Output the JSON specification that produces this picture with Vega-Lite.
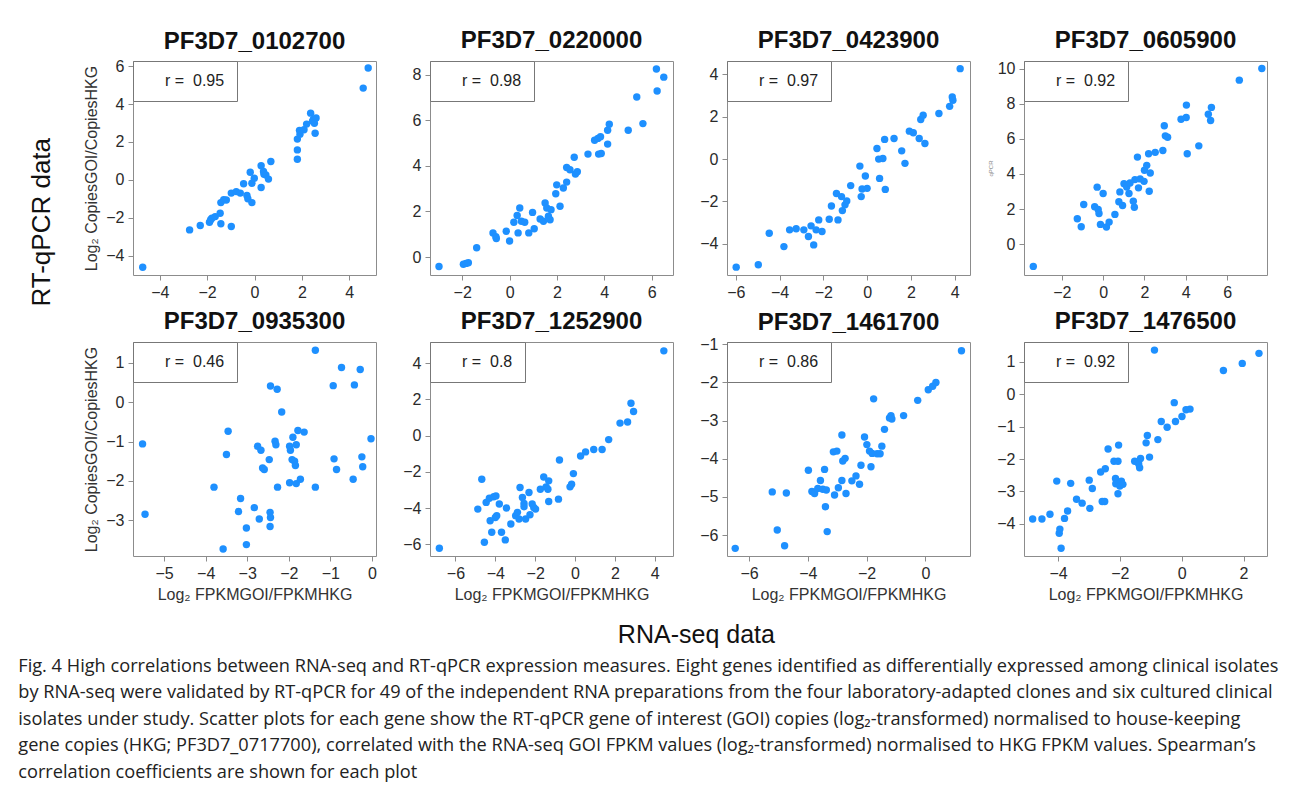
{
  "$schema": "https://vega.github.io/schema/vega-lite/v6.json",
  "padding": {"left": 18, "top": 28, "right": 10, "bottom": 5},
  "background": "white",
  "datasets": {
    "stats": [
      {"g": "PF3D7_0102700", "r": "0.95"},
      {"g": "PF3D7_0220000", "r": "0.98"},
      {"g": "PF3D7_0423900", "r": "0.97"},
      {"g": "PF3D7_0605900", "r": "0.92"},
      {"g": "PF3D7_0935300", "r": "0.46"},
      {"g": "PF3D7_1252900", "r": "0.8"},
      {"g": "PF3D7_1461700", "r": "0.86"},
      {"g": "PF3D7_1476500", "r": "0.92"}
    ],
    "pts": [
      {"g": "PF3D7_0102700", "x": -4.72, "y": -4.61},
      {"g": "PF3D7_0102700", "x": -2.74, "y": -2.64},
      {"g": "PF3D7_0102700", "x": -2.29, "y": -2.41},
      {"g": "PF3D7_0102700", "x": -1.9, "y": -2.24},
      {"g": "PF3D7_0102700", "x": -1.8, "y": -2.02},
      {"g": "PF3D7_0102700", "x": -1.85, "y": -2.1},
      {"g": "PF3D7_0102700", "x": -1.66, "y": -1.94},
      {"g": "PF3D7_0102700", "x": -1.45, "y": -1.76},
      {"g": "PF3D7_0102700", "x": -1.42, "y": -2.32},
      {"g": "PF3D7_0102700", "x": -0.98, "y": -2.46},
      {"g": "PF3D7_0102700", "x": -1.42, "y": -1.2},
      {"g": "PF3D7_0102700", "x": -1.3, "y": -1.05},
      {"g": "PF3D7_0102700", "x": -1.19, "y": -1.06},
      {"g": "PF3D7_0102700", "x": -0.98, "y": -0.7},
      {"g": "PF3D7_0102700", "x": -0.77, "y": -0.62},
      {"g": "PF3D7_0102700", "x": -0.6, "y": -0.7},
      {"g": "PF3D7_0102700", "x": -0.32, "y": -0.83},
      {"g": "PF3D7_0102700", "x": -0.28, "y": -1.0},
      {"g": "PF3D7_0102700", "x": -0.11, "y": -1.2},
      {"g": "PF3D7_0102700", "x": -0.46, "y": -0.21},
      {"g": "PF3D7_0102700", "x": -0.18, "y": 0.4},
      {"g": "PF3D7_0102700", "x": -0.11, "y": -0.18},
      {"g": "PF3D7_0102700", "x": -0.01, "y": 0.09},
      {"g": "PF3D7_0102700", "x": 0.28, "y": -0.4},
      {"g": "PF3D7_0102700", "x": 0.28, "y": 0.74},
      {"g": "PF3D7_0102700", "x": 0.38, "y": 0.44},
      {"g": "PF3D7_0102700", "x": 0.4, "y": 0.3},
      {"g": "PF3D7_0102700", "x": 0.48, "y": 0.26},
      {"g": "PF3D7_0102700", "x": 0.59, "y": 0.04},
      {"g": "PF3D7_0102700", "x": 0.69, "y": 0.97},
      {"g": "PF3D7_0102700", "x": 1.81, "y": 1.09},
      {"g": "PF3D7_0102700", "x": 1.81, "y": 1.58},
      {"g": "PF3D7_0102700", "x": 1.81, "y": 2.15},
      {"g": "PF3D7_0102700", "x": 1.92, "y": 2.41},
      {"g": "PF3D7_0102700", "x": 1.9, "y": 2.61},
      {"g": "PF3D7_0102700", "x": 2.09, "y": 2.64},
      {"g": "PF3D7_0102700", "x": 2.2, "y": 2.94},
      {"g": "PF3D7_0102700", "x": 2.37, "y": 3.52},
      {"g": "PF3D7_0102700", "x": 2.49, "y": 3.2},
      {"g": "PF3D7_0102700", "x": 2.45, "y": 3.1},
      {"g": "PF3D7_0102700", "x": 2.6, "y": 3.26},
      {"g": "PF3D7_0102700", "x": 2.56, "y": 2.46},
      {"g": "PF3D7_0102700", "x": 2.53, "y": 2.99},
      {"g": "PF3D7_0102700", "x": 4.59, "y": 4.84},
      {"g": "PF3D7_0102700", "x": 4.8, "y": 5.9},

      {"g": "PF3D7_0220000", "x": -2.98, "y": -0.42},
      {"g": "PF3D7_0220000", "x": -1.95, "y": -0.32},
      {"g": "PF3D7_0220000", "x": -1.84, "y": -0.28},
      {"g": "PF3D7_0220000", "x": -1.74, "y": -0.25},
      {"g": "PF3D7_0220000", "x": -1.39, "y": 0.41},
      {"g": "PF3D7_0220000", "x": -0.7, "y": 1.06},
      {"g": "PF3D7_0220000", "x": -0.58, "y": 0.89},
      {"g": "PF3D7_0220000", "x": -0.56, "y": 0.81},
      {"g": "PF3D7_0220000", "x": -0.14, "y": 1.13},
      {"g": "PF3D7_0220000", "x": 0.0, "y": 0.7},
      {"g": "PF3D7_0220000", "x": 0.18, "y": 1.53},
      {"g": "PF3D7_0220000", "x": 0.32, "y": 1.82},
      {"g": "PF3D7_0220000", "x": 0.36, "y": 1.06},
      {"g": "PF3D7_0220000", "x": 0.43, "y": 2.15},
      {"g": "PF3D7_0220000", "x": 0.5, "y": 1.57},
      {"g": "PF3D7_0220000", "x": 0.64, "y": 1.53},
      {"g": "PF3D7_0220000", "x": 0.81, "y": 1.06},
      {"g": "PF3D7_0220000", "x": 0.97, "y": 1.96},
      {"g": "PF3D7_0220000", "x": 1.04, "y": 1.24},
      {"g": "PF3D7_0220000", "x": 1.29, "y": 1.67},
      {"g": "PF3D7_0220000", "x": 1.43, "y": 1.57},
      {"g": "PF3D7_0220000", "x": 1.5, "y": 2.37},
      {"g": "PF3D7_0220000", "x": 1.57, "y": 2.15},
      {"g": "PF3D7_0220000", "x": 1.64, "y": 1.79},
      {"g": "PF3D7_0220000", "x": 1.71, "y": 1.64},
      {"g": "PF3D7_0220000", "x": 1.75, "y": 2.08},
      {"g": "PF3D7_0220000", "x": 2.13, "y": 2.23},
      {"g": "PF3D7_0220000", "x": 1.95, "y": 2.78},
      {"g": "PF3D7_0220000", "x": 1.99, "y": 3.17},
      {"g": "PF3D7_0220000", "x": 2.27, "y": 3.03},
      {"g": "PF3D7_0220000", "x": 2.41, "y": 3.29},
      {"g": "PF3D7_0220000", "x": 2.41, "y": 3.93},
      {"g": "PF3D7_0220000", "x": 2.55, "y": 3.83},
      {"g": "PF3D7_0220000", "x": 2.73, "y": 4.38},
      {"g": "PF3D7_0220000", "x": 2.78, "y": 3.65},
      {"g": "PF3D7_0220000", "x": 2.86, "y": 3.75},
      {"g": "PF3D7_0220000", "x": 3.31, "y": 4.52},
      {"g": "PF3D7_0220000", "x": 3.59, "y": 5.13},
      {"g": "PF3D7_0220000", "x": 3.73, "y": 5.21},
      {"g": "PF3D7_0220000", "x": 3.84, "y": 5.28},
      {"g": "PF3D7_0220000", "x": 3.76, "y": 4.52},
      {"g": "PF3D7_0220000", "x": 3.87, "y": 4.55},
      {"g": "PF3D7_0220000", "x": 4.14, "y": 4.96},
      {"g": "PF3D7_0220000", "x": 4.14, "y": 5.57},
      {"g": "PF3D7_0220000", "x": 4.21, "y": 5.83},
      {"g": "PF3D7_0220000", "x": 5.01, "y": 5.57},
      {"g": "PF3D7_0220000", "x": 5.37, "y": 7.03},
      {"g": "PF3D7_0220000", "x": 5.63, "y": 5.86},
      {"g": "PF3D7_0220000", "x": 6.2, "y": 8.26},
      {"g": "PF3D7_0220000", "x": 6.23, "y": 7.29},
      {"g": "PF3D7_0220000", "x": 6.51, "y": 7.9},

      {"g": "PF3D7_0423900", "x": -5.98, "y": -5.1},
      {"g": "PF3D7_0423900", "x": -4.97, "y": -4.99},
      {"g": "PF3D7_0423900", "x": -4.47, "y": -3.5},
      {"g": "PF3D7_0423900", "x": -3.8, "y": -4.13},
      {"g": "PF3D7_0423900", "x": -3.54, "y": -3.34},
      {"g": "PF3D7_0423900", "x": -3.24, "y": -3.29},
      {"g": "PF3D7_0423900", "x": -2.89, "y": -3.34},
      {"g": "PF3D7_0423900", "x": -2.68, "y": -3.65},
      {"g": "PF3D7_0423900", "x": -2.56, "y": -3.15},
      {"g": "PF3D7_0423900", "x": -2.44, "y": -4.05},
      {"g": "PF3D7_0423900", "x": -2.33, "y": -3.34},
      {"g": "PF3D7_0423900", "x": -2.21, "y": -2.87},
      {"g": "PF3D7_0423900", "x": -2.06, "y": -3.42},
      {"g": "PF3D7_0423900", "x": -1.73, "y": -2.84},
      {"g": "PF3D7_0423900", "x": -1.63, "y": -2.21},
      {"g": "PF3D7_0423900", "x": -1.4, "y": -1.62},
      {"g": "PF3D7_0423900", "x": -1.33, "y": -2.87},
      {"g": "PF3D7_0423900", "x": -1.17, "y": -1.77},
      {"g": "PF3D7_0423900", "x": -1.13, "y": -2.43},
      {"g": "PF3D7_0423900", "x": -1.01, "y": -2.16},
      {"g": "PF3D7_0423900", "x": -0.93, "y": -1.98},
      {"g": "PF3D7_0423900", "x": -0.75, "y": -1.25},
      {"g": "PF3D7_0423900", "x": -0.33, "y": -0.33},
      {"g": "PF3D7_0423900", "x": -0.27, "y": -1.77},
      {"g": "PF3D7_0423900", "x": -0.23, "y": -1.41},
      {"g": "PF3D7_0423900", "x": -0.08, "y": -0.8},
      {"g": "PF3D7_0423900", "x": 0.0, "y": -1.38},
      {"g": "PF3D7_0423900", "x": 0.45, "y": 0.5},
      {"g": "PF3D7_0423900", "x": 0.53, "y": 0.0},
      {"g": "PF3D7_0423900", "x": 0.57, "y": -0.91},
      {"g": "PF3D7_0423900", "x": 0.72, "y": 0.03},
      {"g": "PF3D7_0423900", "x": 0.8, "y": 0.93},
      {"g": "PF3D7_0423900", "x": 0.83, "y": -1.43},
      {"g": "PF3D7_0423900", "x": 1.23, "y": 0.97},
      {"g": "PF3D7_0423900", "x": 1.58, "y": 0.39},
      {"g": "PF3D7_0423900", "x": 1.73, "y": -0.2},
      {"g": "PF3D7_0423900", "x": 1.93, "y": 1.32},
      {"g": "PF3D7_0423900", "x": 2.11, "y": 1.24},
      {"g": "PF3D7_0423900", "x": 2.38, "y": 0.97},
      {"g": "PF3D7_0423900", "x": 2.64, "y": 0.74},
      {"g": "PF3D7_0423900", "x": 2.45, "y": 1.87},
      {"g": "PF3D7_0423900", "x": 2.56, "y": 2.07},
      {"g": "PF3D7_0423900", "x": 3.28, "y": 2.15},
      {"g": "PF3D7_0423900", "x": 3.77, "y": 2.49},
      {"g": "PF3D7_0423900", "x": 3.89, "y": 2.93},
      {"g": "PF3D7_0423900", "x": 3.92, "y": 2.78},
      {"g": "PF3D7_0423900", "x": 4.25, "y": 4.27},

      {"g": "PF3D7_0605900", "x": -3.38, "y": -1.26},
      {"g": "PF3D7_0605900", "x": -1.25, "y": 1.45},
      {"g": "PF3D7_0605900", "x": -1.06, "y": 1.0},
      {"g": "PF3D7_0605900", "x": -0.94, "y": 2.26},
      {"g": "PF3D7_0605900", "x": -0.41, "y": 2.13},
      {"g": "PF3D7_0605900", "x": -0.29, "y": 3.25},
      {"g": "PF3D7_0605900", "x": -0.24, "y": 1.98},
      {"g": "PF3D7_0605900", "x": -0.2, "y": 1.75},
      {"g": "PF3D7_0605900", "x": -0.13, "y": 1.13},
      {"g": "PF3D7_0605900", "x": 0.0, "y": 2.89},
      {"g": "PF3D7_0605900", "x": 0.16, "y": 0.98},
      {"g": "PF3D7_0605900", "x": 0.29, "y": 1.26},
      {"g": "PF3D7_0605900", "x": 0.57, "y": 1.7},
      {"g": "PF3D7_0605900", "x": 0.76, "y": 2.42},
      {"g": "PF3D7_0605900", "x": 0.81, "y": 2.98},
      {"g": "PF3D7_0605900", "x": 0.94, "y": 2.21},
      {"g": "PF3D7_0605900", "x": 1.01, "y": 3.45},
      {"g": "PF3D7_0605900", "x": 1.14, "y": 3.26},
      {"g": "PF3D7_0605900", "x": 1.25, "y": 2.89},
      {"g": "PF3D7_0605900", "x": 1.3, "y": 3.49},
      {"g": "PF3D7_0605900", "x": 1.46, "y": 2.45},
      {"g": "PF3D7_0605900", "x": 1.51, "y": 2.11},
      {"g": "PF3D7_0605900", "x": 1.54, "y": 3.68},
      {"g": "PF3D7_0605900", "x": 1.66, "y": 4.96},
      {"g": "PF3D7_0605900", "x": 1.71, "y": 3.21},
      {"g": "PF3D7_0605900", "x": 1.79, "y": 3.72},
      {"g": "PF3D7_0605900", "x": 1.98, "y": 3.58},
      {"g": "PF3D7_0605900", "x": 2.0, "y": 4.21},
      {"g": "PF3D7_0605900", "x": 2.11, "y": 4.49},
      {"g": "PF3D7_0605900", "x": 2.2, "y": 5.15},
      {"g": "PF3D7_0605900", "x": 2.23, "y": 3.02},
      {"g": "PF3D7_0605900", "x": 2.28, "y": 4.06},
      {"g": "PF3D7_0605900", "x": 2.52, "y": 5.23},
      {"g": "PF3D7_0605900", "x": 2.89, "y": 5.34},
      {"g": "PF3D7_0605900", "x": 2.96, "y": 6.74},
      {"g": "PF3D7_0605900", "x": 3.01, "y": 6.17},
      {"g": "PF3D7_0605900", "x": 3.12, "y": 6.09},
      {"g": "PF3D7_0605900", "x": 3.77, "y": 7.11},
      {"g": "PF3D7_0605900", "x": 4.02, "y": 7.21},
      {"g": "PF3D7_0605900", "x": 4.03, "y": 7.92},
      {"g": "PF3D7_0605900", "x": 4.07, "y": 5.15},
      {"g": "PF3D7_0605900", "x": 4.63, "y": 5.6},
      {"g": "PF3D7_0605900", "x": 5.09, "y": 7.4},
      {"g": "PF3D7_0605900", "x": 5.24, "y": 7.79},
      {"g": "PF3D7_0605900", "x": 5.2, "y": 7.04},
      {"g": "PF3D7_0605900", "x": 6.59, "y": 9.34},
      {"g": "PF3D7_0605900", "x": 7.68, "y": 10.0},

      {"g": "PF3D7_0935300", "x": -5.52, "y": -1.06},
      {"g": "PF3D7_0935300", "x": -5.46, "y": -2.85},
      {"g": "PF3D7_0935300", "x": -3.8, "y": -2.16},
      {"g": "PF3D7_0935300", "x": -3.58, "y": -3.73},
      {"g": "PF3D7_0935300", "x": -3.5, "y": -1.33},
      {"g": "PF3D7_0935300", "x": -3.46, "y": -0.74},
      {"g": "PF3D7_0935300", "x": -3.21, "y": -2.78},
      {"g": "PF3D7_0935300", "x": -3.16, "y": -2.45},
      {"g": "PF3D7_0935300", "x": -3.02, "y": -3.2},
      {"g": "PF3D7_0935300", "x": -3.02, "y": -3.62},
      {"g": "PF3D7_0935300", "x": -2.83, "y": -2.68},
      {"g": "PF3D7_0935300", "x": -2.75, "y": -1.12},
      {"g": "PF3D7_0935300", "x": -2.71, "y": -2.97},
      {"g": "PF3D7_0935300", "x": -2.67, "y": -1.22},
      {"g": "PF3D7_0935300", "x": -2.63, "y": -1.67},
      {"g": "PF3D7_0935300", "x": -2.59, "y": -1.71},
      {"g": "PF3D7_0935300", "x": -2.47, "y": -1.46},
      {"g": "PF3D7_0935300", "x": -2.45, "y": -2.8},
      {"g": "PF3D7_0935300", "x": -2.44, "y": -2.93},
      {"g": "PF3D7_0935300", "x": -2.45, "y": -3.16},
      {"g": "PF3D7_0935300", "x": -2.44, "y": 0.41},
      {"g": "PF3D7_0935300", "x": -2.28, "y": 0.33},
      {"g": "PF3D7_0935300", "x": -2.33, "y": -0.99},
      {"g": "PF3D7_0935300", "x": -2.31, "y": -1.08},
      {"g": "PF3D7_0935300", "x": -2.27, "y": -2.16},
      {"g": "PF3D7_0935300", "x": -2.17, "y": -0.25},
      {"g": "PF3D7_0935300", "x": -1.98, "y": -1.12},
      {"g": "PF3D7_0935300", "x": -1.96, "y": -1.22},
      {"g": "PF3D7_0935300", "x": -1.98, "y": -2.05},
      {"g": "PF3D7_0935300", "x": -1.92, "y": -1.46},
      {"g": "PF3D7_0935300", "x": -1.9, "y": -0.89},
      {"g": "PF3D7_0935300", "x": -1.86, "y": -1.5},
      {"g": "PF3D7_0935300", "x": -1.84, "y": -1.61},
      {"g": "PF3D7_0935300", "x": -1.82, "y": -2.07},
      {"g": "PF3D7_0935300", "x": -1.82, "y": -1.08},
      {"g": "PF3D7_0935300", "x": -1.78, "y": -0.72},
      {"g": "PF3D7_0935300", "x": -1.72, "y": -1.96},
      {"g": "PF3D7_0935300", "x": -1.63, "y": -0.76},
      {"g": "PF3D7_0935300", "x": -1.36, "y": 1.32},
      {"g": "PF3D7_0935300", "x": -1.36, "y": -2.16},
      {"g": "PF3D7_0935300", "x": -0.93, "y": 0.42},
      {"g": "PF3D7_0935300", "x": -0.91, "y": -1.44},
      {"g": "PF3D7_0935300", "x": -0.85, "y": -1.71},
      {"g": "PF3D7_0935300", "x": -0.73, "y": 0.88},
      {"g": "PF3D7_0935300", "x": -0.42, "y": 0.44},
      {"g": "PF3D7_0935300", "x": -0.45, "y": -1.96},
      {"g": "PF3D7_0935300", "x": -0.28, "y": 0.83},
      {"g": "PF3D7_0935300", "x": -0.24, "y": -1.39},
      {"g": "PF3D7_0935300", "x": -0.22, "y": -1.64},
      {"g": "PF3D7_0935300", "x": -0.02, "y": -0.93},

      {"g": "PF3D7_1252900", "x": -6.81, "y": -6.22},
      {"g": "PF3D7_1252900", "x": -4.88, "y": -4.06},
      {"g": "PF3D7_1252900", "x": -4.68, "y": -2.41},
      {"g": "PF3D7_1252900", "x": -4.55, "y": -5.89},
      {"g": "PF3D7_1252900", "x": -4.46, "y": -3.69},
      {"g": "PF3D7_1252900", "x": -4.3, "y": -3.46},
      {"g": "PF3D7_1252900", "x": -4.26, "y": -4.7},
      {"g": "PF3D7_1252900", "x": -4.18, "y": -5.34},
      {"g": "PF3D7_1252900", "x": -4.08, "y": -3.38},
      {"g": "PF3D7_1252900", "x": -4.0, "y": -4.52},
      {"g": "PF3D7_1252900", "x": -3.97, "y": -3.33},
      {"g": "PF3D7_1252900", "x": -3.93, "y": -4.42},
      {"g": "PF3D7_1252900", "x": -3.8, "y": -3.78},
      {"g": "PF3D7_1252900", "x": -3.69, "y": -5.34},
      {"g": "PF3D7_1252900", "x": -3.5, "y": -5.76},
      {"g": "PF3D7_1252900", "x": -3.44, "y": -4.0},
      {"g": "PF3D7_1252900", "x": -3.22, "y": -4.88},
      {"g": "PF3D7_1252900", "x": -2.98, "y": -4.42},
      {"g": "PF3D7_1252900", "x": -2.89, "y": -4.24},
      {"g": "PF3D7_1252900", "x": -2.76, "y": -2.87},
      {"g": "PF3D7_1252900", "x": -2.81, "y": -4.61},
      {"g": "PF3D7_1252900", "x": -2.64, "y": -3.42},
      {"g": "PF3D7_1252900", "x": -2.56, "y": -3.75},
      {"g": "PF3D7_1252900", "x": -2.56, "y": -3.93},
      {"g": "PF3D7_1252900", "x": -2.48, "y": -4.61},
      {"g": "PF3D7_1252900", "x": -2.31, "y": -3.14},
      {"g": "PF3D7_1252900", "x": -2.26, "y": -4.37},
      {"g": "PF3D7_1252900", "x": -2.15, "y": -3.78},
      {"g": "PF3D7_1252900", "x": -2.07, "y": -3.97},
      {"g": "PF3D7_1252900", "x": -1.98, "y": -4.06},
      {"g": "PF3D7_1252900", "x": -1.74, "y": -2.96},
      {"g": "PF3D7_1252900", "x": -1.57, "y": -2.29},
      {"g": "PF3D7_1252900", "x": -1.45, "y": -2.83},
      {"g": "PF3D7_1252900", "x": -1.32, "y": -2.5},
      {"g": "PF3D7_1252900", "x": -1.36, "y": -2.96},
      {"g": "PF3D7_1252900", "x": -1.32, "y": -3.64},
      {"g": "PF3D7_1252900", "x": -0.83, "y": -3.51},
      {"g": "PF3D7_1252900", "x": -0.78, "y": -1.35},
      {"g": "PF3D7_1252900", "x": -0.25, "y": -2.83},
      {"g": "PF3D7_1252900", "x": -0.17, "y": -2.69},
      {"g": "PF3D7_1252900", "x": -0.08, "y": -2.1},
      {"g": "PF3D7_1252900", "x": 0.28, "y": -1.13},
      {"g": "PF3D7_1252900", "x": 0.53, "y": -0.9},
      {"g": "PF3D7_1252900", "x": 0.94, "y": -0.77},
      {"g": "PF3D7_1252900", "x": 1.36, "y": -0.77},
      {"g": "PF3D7_1252900", "x": 1.69, "y": -0.22},
      {"g": "PF3D7_1252900", "x": 2.26, "y": 0.69},
      {"g": "PF3D7_1252900", "x": 2.64, "y": 0.75},
      {"g": "PF3D7_1252900", "x": 2.81, "y": 1.79},
      {"g": "PF3D7_1252900", "x": 2.94, "y": 1.33},
      {"g": "PF3D7_1252900", "x": 4.46, "y": 4.68},

      {"g": "PF3D7_1461700", "x": -6.47, "y": -6.35},
      {"g": "PF3D7_1461700", "x": -5.21, "y": -4.87},
      {"g": "PF3D7_1461700", "x": -5.04, "y": -5.87},
      {"g": "PF3D7_1461700", "x": -4.79, "y": -6.28},
      {"g": "PF3D7_1461700", "x": -4.73, "y": -4.9},
      {"g": "PF3D7_1461700", "x": -3.98, "y": -4.3},
      {"g": "PF3D7_1461700", "x": -3.86, "y": -4.86},
      {"g": "PF3D7_1461700", "x": -3.77, "y": -4.91},
      {"g": "PF3D7_1461700", "x": -3.66, "y": -4.78},
      {"g": "PF3D7_1461700", "x": -3.57, "y": -4.57},
      {"g": "PF3D7_1461700", "x": -3.49, "y": -4.8},
      {"g": "PF3D7_1461700", "x": -3.43, "y": -4.28},
      {"g": "PF3D7_1461700", "x": -3.4, "y": -5.26},
      {"g": "PF3D7_1461700", "x": -3.37, "y": -4.82},
      {"g": "PF3D7_1461700", "x": -3.34, "y": -5.91},
      {"g": "PF3D7_1461700", "x": -3.13, "y": -3.82},
      {"g": "PF3D7_1461700", "x": -3.09, "y": -4.95},
      {"g": "PF3D7_1461700", "x": -3.01, "y": -3.8},
      {"g": "PF3D7_1461700", "x": -2.96, "y": -4.76},
      {"g": "PF3D7_1461700", "x": -2.84, "y": -3.38},
      {"g": "PF3D7_1461700", "x": -2.84, "y": -4.57},
      {"g": "PF3D7_1461700", "x": -2.81, "y": -4.06},
      {"g": "PF3D7_1461700", "x": -2.73, "y": -3.99},
      {"g": "PF3D7_1461700", "x": -2.7, "y": -4.91},
      {"g": "PF3D7_1461700", "x": -2.5, "y": -4.58},
      {"g": "PF3D7_1461700", "x": -2.36, "y": -4.45},
      {"g": "PF3D7_1461700", "x": -2.24, "y": -4.67},
      {"g": "PF3D7_1461700", "x": -2.19, "y": -4.17},
      {"g": "PF3D7_1461700", "x": -2.07, "y": -3.43},
      {"g": "PF3D7_1461700", "x": -1.99, "y": -3.63},
      {"g": "PF3D7_1461700", "x": -1.9, "y": -3.8},
      {"g": "PF3D7_1461700", "x": -1.85, "y": -4.21},
      {"g": "PF3D7_1461700", "x": -1.81, "y": -3.86},
      {"g": "PF3D7_1461700", "x": -1.76, "y": -2.43},
      {"g": "PF3D7_1461700", "x": -1.64, "y": -3.87},
      {"g": "PF3D7_1461700", "x": -1.54, "y": -3.87},
      {"g": "PF3D7_1461700", "x": -1.48, "y": -3.67},
      {"g": "PF3D7_1461700", "x": -1.39, "y": -3.23},
      {"g": "PF3D7_1461700", "x": -1.22, "y": -2.93},
      {"g": "PF3D7_1461700", "x": -1.17, "y": -2.87},
      {"g": "PF3D7_1461700", "x": -1.14, "y": -2.96},
      {"g": "PF3D7_1461700", "x": -0.74, "y": -2.87},
      {"g": "PF3D7_1461700", "x": -0.26, "y": -2.47},
      {"g": "PF3D7_1461700", "x": 0.1, "y": -2.19},
      {"g": "PF3D7_1461700", "x": 0.25, "y": -2.1},
      {"g": "PF3D7_1461700", "x": 0.36, "y": -2.0},
      {"g": "PF3D7_1461700", "x": 1.23, "y": -1.17},

      {"g": "PF3D7_1476500", "x": -4.82, "y": -3.85},
      {"g": "PF3D7_1476500", "x": -4.52, "y": -3.85},
      {"g": "PF3D7_1476500", "x": -4.26, "y": -3.7},
      {"g": "PF3D7_1476500", "x": -4.04, "y": -2.68},
      {"g": "PF3D7_1476500", "x": -3.96, "y": -4.29},
      {"g": "PF3D7_1476500", "x": -3.94, "y": -4.16},
      {"g": "PF3D7_1476500", "x": -3.9, "y": -4.75},
      {"g": "PF3D7_1476500", "x": -3.79, "y": -3.83},
      {"g": "PF3D7_1476500", "x": -3.69, "y": -3.6},
      {"g": "PF3D7_1476500", "x": -3.59, "y": -2.75},
      {"g": "PF3D7_1476500", "x": -3.4, "y": -3.24},
      {"g": "PF3D7_1476500", "x": -3.22, "y": -3.36},
      {"g": "PF3D7_1476500", "x": -2.99, "y": -2.65},
      {"g": "PF3D7_1476500", "x": -2.97, "y": -3.52},
      {"g": "PF3D7_1476500", "x": -2.89, "y": -2.91},
      {"g": "PF3D7_1476500", "x": -2.62, "y": -2.4},
      {"g": "PF3D7_1476500", "x": -2.57, "y": -3.31},
      {"g": "PF3D7_1476500", "x": -2.49, "y": -3.31},
      {"g": "PF3D7_1476500", "x": -2.47, "y": -2.3},
      {"g": "PF3D7_1476500", "x": -2.38, "y": -1.69},
      {"g": "PF3D7_1476500", "x": -2.19, "y": -2.07},
      {"g": "PF3D7_1476500", "x": -2.14, "y": -2.6},
      {"g": "PF3D7_1476500", "x": -2.13, "y": -2.76},
      {"g": "PF3D7_1476500", "x": -2.06, "y": -2.07},
      {"g": "PF3D7_1476500", "x": -2.06, "y": -3.07},
      {"g": "PF3D7_1476500", "x": -2.04, "y": -1.57},
      {"g": "PF3D7_1476500", "x": -2.0, "y": -2.83},
      {"g": "PF3D7_1476500", "x": -1.95, "y": -2.68},
      {"g": "PF3D7_1476500", "x": -1.9, "y": -2.78},
      {"g": "PF3D7_1476500", "x": -1.52, "y": -2.07},
      {"g": "PF3D7_1476500", "x": -1.39, "y": -2.15},
      {"g": "PF3D7_1476500", "x": -1.36, "y": -2.27},
      {"g": "PF3D7_1476500", "x": -1.33, "y": -1.98},
      {"g": "PF3D7_1476500", "x": -1.15, "y": -1.5},
      {"g": "PF3D7_1476500", "x": -1.11, "y": -1.27},
      {"g": "PF3D7_1476500", "x": -1.04, "y": -1.94},
      {"g": "PF3D7_1476500", "x": -0.88, "y": 1.36},
      {"g": "PF3D7_1476500", "x": -0.77, "y": -1.4},
      {"g": "PF3D7_1476500", "x": -0.66, "y": -0.84},
      {"g": "PF3D7_1476500", "x": -0.47, "y": -1.02},
      {"g": "PF3D7_1476500", "x": -0.24, "y": -0.26},
      {"g": "PF3D7_1476500", "x": -0.2, "y": -0.84},
      {"g": "PF3D7_1476500", "x": 0.01, "y": -0.69},
      {"g": "PF3D7_1476500", "x": 0.14, "y": -0.48},
      {"g": "PF3D7_1476500", "x": 0.27, "y": -0.46},
      {"g": "PF3D7_1476500", "x": 1.35, "y": 0.73},
      {"g": "PF3D7_1476500", "x": 1.96, "y": 0.95},
      {"g": "PF3D7_1476500", "x": 2.5, "y": 1.26}
    ]
  },
  "config": {
    "font": "Liberation Sans",
    "view": {"stroke": "#8c8c8c", "strokeWidth": 1},
    "title": {"font": "Liberation Sans", "fontSize": 24, "fontWeight": "bold", "color": "#111111", "offset": 8},
    "axis": {
      "grid": false, "domain": false, "tickColor": "#8c8c8c", "tickSize": 5,
      "labelFont": "Liberation Sans", "labelFontSize": 16, "labelColor": "#2a2a2a", "labelPadding": 4,
      "titleFont": "Liberation Sans", "titleFontSize": 16, "titleFontWeight": "normal", "titleColor": "#333333",
      "labelFlush": false, "labelOverlap": false
    },
    "axisY": {"titlePadding": 6},
    "axisX": {"titlePadding": 5},
    "legend": {
      "orient": "top-left", "offset": 0, "padding": 12, "strokeColor": "#777777", "fillColor": "white",
      "symbolSize": 0, "symbolOpacity": 0, "symbolStrokeWidth": 0, "labelFont": "Liberation Sans",
      "labelFontSize": 16, "labelColor": "#222222", "labelOffset": 4, "cornerRadius": 0
    }
  },
  "title": {
    "text": [
      "Fig. 4 High correlations between RNA-seq and RT-qPCR expression measures. Eight genes identified as differentially expressed among clinical isolates",
      "by RNA-seq were validated by RT-qPCR for 49 of the independent RNA preparations from the four laboratory-adapted clones and six cultured clinical",
      "isolates under study. Scatter plots for each gene show the RT-qPCR gene of interest (GOI) copies (log₂-transformed) normalised to house-keeping",
      "gene copies (HKG; PF3D7_0717700), correlated with the RNA-seq GOI FPKM values (log₂-transformed) normalised to HKG FPKM values. Spearman’s",
      "correlation coefficients are shown for each plot"
    ],
    "orient": "bottom", "anchor": "start", "font": "Open Sans", "fontSize": 18.2, "fontWeight": "normal",
    "color": "#222222", "lineHeight": 26.5, "offset": 10, "align": "left", "dx": -11
  },
  "vconcat": [
    {
      "title": {"text": "RNA-seq data", "orient": "bottom", "anchor": "middle", "fontSize": 25, "fontWeight": "normal", "color": "#111111", "offset": 20, "dx": 48},
      "vconcat": [
        {
          "title": {"text": "RT-qPCR data", "orient": "left", "anchor": "middle", "fontSize": 26, "fontWeight": "normal", "color": "#111111", "offset": 28, "dx": 93},
          "columns": 4,
          "bounds": "flush",
          "spacing": {"row": 67, "column": 54},
          "resolve": {"scale": {"color": "independent"}, "legend": {"color": "independent"}},
          "concat": [
            {
              "title": {"text": "PF3D7_0102700", "dy": 4}, "width": 243, "height": 214,
              "data": {"name": "pts"},
              "transform": [{"filter": "datum.g == 'PF3D7_0102700'"}, {"lookup": "g", "from": {"data": {"name": "stats"}, "key": "g", "fields": ["r"]}}],
              "mark": {"type": "circle", "size": 55, "opacity": 1},
              "encoding": {
                "x": {"field": "x", "type": "quantitative", "scale": {"domain": [-5.13, 5.13], "nice": false, "zero": false}, "axis": {"values": [-4, -2, 0, 2, 4], "title": null}},
                "y": {"field": "y", "type": "quantitative", "scale": {"domain": [-5.02, 6.27], "nice": false, "zero": false}, "axis": {"values": [-4, -2, 0, 2, 4, 6], "title": "Log₂ CopiesGOI/CopiesHKG"}},
                "color": {"field": "r", "type": "nominal", "title": null, "scale": {"range": ["#1e90ff"]}, "legend": {"labelExpr": "'r = \u00a0' + datum.label"}}
              }
            },
            {
              "title": "PF3D7_0220000", "width": 243, "height": 214,
              "data": {"name": "pts"},
              "transform": [{"filter": "datum.g == 'PF3D7_0220000'"}, {"lookup": "g", "from": {"data": {"name": "stats"}, "key": "g", "fields": ["r"]}}],
              "mark": {"type": "circle", "size": 55, "opacity": 1},
              "encoding": {
                "x": {"field": "x", "type": "quantitative", "scale": {"domain": [-3.36, 6.9], "nice": false, "zero": false}, "axis": {"values": [-2, 0, 2, 4, 6], "title": null}},
                "y": {"field": "y", "type": "quantitative", "scale": {"domain": [-0.79, 8.61], "nice": false, "zero": false}, "axis": {"values": [0, 2, 4, 6, 8], "title": null}},
                "color": {"field": "r", "type": "nominal", "title": null, "scale": {"range": ["#1e90ff"]}, "legend": {"labelExpr": "'r = \u00a0' + datum.label"}}
              }
            },
            {
              "title": "PF3D7_0423900", "width": 243, "height": 214,
              "data": {"name": "pts"},
              "transform": [{"filter": "datum.g == 'PF3D7_0423900'"}, {"lookup": "g", "from": {"data": {"name": "stats"}, "key": "g", "fields": ["r"]}}],
              "mark": {"type": "circle", "size": 55, "opacity": 1},
              "encoding": {
                "x": {"field": "x", "type": "quantitative", "scale": {"domain": [-6.4, 4.7], "nice": false, "zero": false}, "axis": {"values": [-6, -4, -2, 0, 2, 4], "title": null}},
                "y": {"field": "y", "type": "quantitative", "scale": {"domain": [-5.47, 4.63], "nice": false, "zero": false}, "axis": {"values": [-4, -2, 0, 2, 4], "title": null}},
                "color": {"field": "r", "type": "nominal", "title": null, "scale": {"range": ["#1e90ff"]}, "legend": {"labelExpr": "'r = \u00a0' + datum.label"}}
              }
            },
            {
              "title": "PF3D7_0605900", "width": 243, "height": 214,
              "data": {"name": "pts"},
              "transform": [{"filter": "datum.g == 'PF3D7_0605900'"}, {"lookup": "g", "from": {"data": {"name": "stats"}, "key": "g", "fields": ["r"]}}],
              "mark": {"type": "circle", "size": 55, "opacity": 1},
              "encoding": {
                "x": {"field": "x", "type": "quantitative", "scale": {"domain": [-3.83, 7.93], "nice": false, "zero": false}, "axis": {"values": [-2, 0, 2, 4, 6, 8], "title": null}},
                "y": {"field": "y", "type": "quantitative", "scale": {"domain": [-1.75, 10.43], "nice": false, "zero": false}, "axis": {"values": [0, 2, 4, 6, 8, 10], "title": "qPCR", "titleFontSize": 6, "titleColor": "#888888", "titlePadding": 4}},
                "color": {"field": "r", "type": "nominal", "title": null, "scale": {"range": ["#1e90ff"]}, "legend": {"labelExpr": "'r = \u00a0' + datum.label"}}
              }
            },
            {
              "title": "PF3D7_0935300", "width": 243, "height": 214,
              "data": {"name": "pts"},
              "transform": [{"filter": "datum.g == 'PF3D7_0935300'"}, {"lookup": "g", "from": {"data": {"name": "stats"}, "key": "g", "fields": ["r"]}}],
              "mark": {"type": "circle", "size": 55, "opacity": 1},
              "encoding": {
                "x": {"field": "x", "type": "quantitative", "scale": {"domain": [-5.75, 0.1], "nice": false, "zero": false}, "axis": {"values": [-5, -4, -3, -2, -1, 0], "title": "Log₂ FPKMGOI/FPKMHKG"}},
                "y": {"field": "y", "type": "quantitative", "scale": {"domain": [-3.91, 1.53], "nice": false, "zero": false}, "axis": {"values": [-3, -2, -1, 0, 1], "title": "Log₂ CopiesGOI/CopiesHKG"}},
                "color": {"field": "r", "type": "nominal", "title": null, "scale": {"range": ["#1e90ff"]}, "legend": {"labelExpr": "'r = \u00a0' + datum.label"}}
              }
            },
            {
              "title": "PF3D7_1252900", "width": 243, "height": 214,
              "data": {"name": "pts"},
              "transform": [{"filter": "datum.g == 'PF3D7_1252900'"}, {"lookup": "g", "from": {"data": {"name": "stats"}, "key": "g", "fields": ["r"]}}],
              "mark": {"type": "circle", "size": 55, "opacity": 1},
              "encoding": {
                "x": {"field": "x", "type": "quantitative", "scale": {"domain": [-7.28, 4.92], "nice": false, "zero": false}, "axis": {"values": [-6, -4, -2, 0, 2, 4], "title": "Log₂ FPKMGOI/FPKMHKG"}},
                "y": {"field": "y", "type": "quantitative", "scale": {"domain": [-6.65, 5.17], "nice": false, "zero": false}, "axis": {"values": [-6, -4, -2, 0, 2, 4], "title": null}},
                "color": {"field": "r", "type": "nominal", "title": null, "scale": {"range": ["#1e90ff"]}, "legend": {"labelExpr": "'r = \u00a0' + datum.label"}}
              }
            },
            {
              "title": {"text": "PF3D7_1461700", "dy": 7}, "width": 243, "height": 214,
              "data": {"name": "pts"},
              "transform": [{"filter": "datum.g == 'PF3D7_1461700'"}, {"lookup": "g", "from": {"data": {"name": "stats"}, "key": "g", "fields": ["r"]}}],
              "mark": {"type": "circle", "size": 55, "opacity": 1},
              "encoding": {
                "x": {"field": "x", "type": "quantitative", "scale": {"domain": [-6.75, 1.52], "nice": false, "zero": false}, "axis": {"values": [-6, -4, -2, 0], "title": "Log₂ FPKMGOI/FPKMHKG"}},
                "y": {"field": "y", "type": "quantitative", "scale": {"domain": [-6.55, -0.94], "nice": false, "zero": false}, "axis": {"values": [-6, -5, -4, -3, -2, -1], "title": null}},
                "color": {"field": "r", "type": "nominal", "title": null, "scale": {"range": ["#1e90ff"]}, "legend": {"labelExpr": "'r = \u00a0' + datum.label"}}
              }
            },
            {
              "title": "PF3D7_1476500", "width": 243, "height": 214,
              "data": {"name": "pts"},
              "transform": [{"filter": "datum.g == 'PF3D7_1476500'"}, {"lookup": "g", "from": {"data": {"name": "stats"}, "key": "g", "fields": ["r"]}}],
              "mark": {"type": "circle", "size": 55, "opacity": 1},
              "encoding": {
                "x": {"field": "x", "type": "quantitative", "scale": {"domain": [-5.1, 2.76], "nice": false, "zero": false}, "axis": {"values": [-4, -2, 0, 2], "title": "Log₂ FPKMGOI/FPKMHKG"}},
                "y": {"field": "y", "type": "quantitative", "scale": {"domain": [-4.99, 1.61], "nice": false, "zero": false}, "axis": {"values": [-5, -4, -3, -2, -1, 0, 1], "title": null}},
                "color": {"field": "r", "type": "nominal", "title": null, "scale": {"range": ["#1e90ff"]}, "legend": {"labelExpr": "'r = \u00a0' + datum.label"}}
              }
            }
          ]
        }
      ]
    }
  ]
}
